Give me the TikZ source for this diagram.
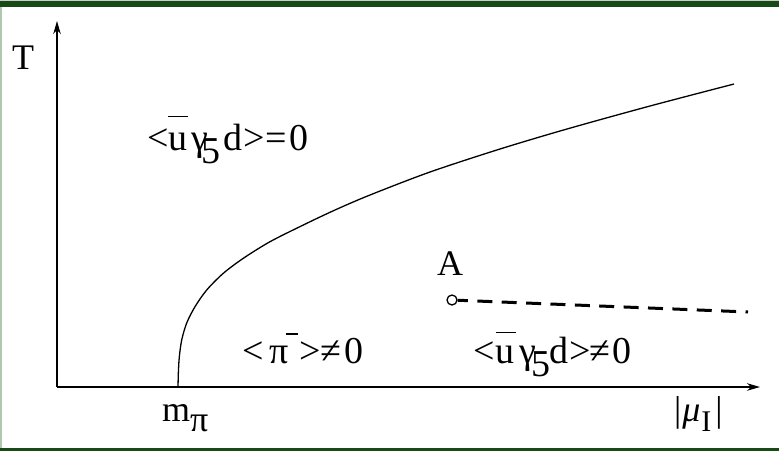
\documentclass[tikz,border=0pt]{standalone}
\usepackage{fontspec}
\setmainfont{Liberation Serif}
\usetikzlibrary{arrows.meta}
\definecolor{framedark}{RGB}{24,74,24}
\definecolor{framelight}{RGB}{175,200,175}
\newcommand{\ovl}[2]{\makebox[0pt][l]{\raisebox{#1}{\rule{#2}{1.4pt}}}}
\begin{document}
\begin{tikzpicture}[x=1pt,y=-1pt,
  lbl/.style={inner sep=0pt, anchor=base west, font=\fontsize{38}{44}\selectfont},
  axlbl/.style={inner sep=0pt, anchor=base west, font=\fontsize{36}{42}\selectfont},
  axisline/.style={line width=1.4pt, -{Stealth[length=13pt,width=7.5pt,inset=4pt]}},
  boundary/.style={line width=1.3pt},
  crossover/.style={line width=3pt, dash pattern=on 15pt off 9.4pt, dash phase=4.7pt},
  endpt/.style={circle, draw, line width=1.3pt, minimum size=10pt, inner sep=0pt, fill=white}]
\useasboundingbox (0,0) rectangle (779,451);
\fill[white] (0,0) rectangle (779,451);
% frame
\fill[gray!40] (0,0) rectangle (779,1.2);
\fill[framedark] (0,1.2) rectangle (779,6.7);
\fill[framedark] (0,448) rectangle (779,451);
\fill[framelight] (0,6.7) rectangle (1.6,448);
% axes
\coordinate (O) at (57,387);
\coordinate (Ytop) at (57,21);
\coordinate (Xend) at (760,387);
\draw[axisline] (O) -- (Ytop);
\draw[axisline] (O) -- (Xend);
% phase boundary
\coordinate (mpi) at (178,387);
\coordinate (Bend) at (734,84);
\draw[boundary] plot[smooth, tension=0.5] coordinates {(178,387) (178.4,372) (179.3,357) (181.7,340) (186.7,323) (195,306.7) (206.7,290) (223.3,273.3) (243.3,258.3) (270,241.7) (303.3,225) (335,210) (370,195) (430,172) (500,149) (567,129) (650,106) (734,84)};
% crossover line
\node[endpt] (A) at (452,300) {};
\coordinate (Dend) at (748,312);
\draw[crossover] (A) -- (Dend);
% labels
\node[axlbl, anchor=base] (Tl) at (23,69) {T};
\node[axlbl, anchor=base] (Al) at (450,275) {A};
\node[axlbl] (mpil) at (162,421) {m\raisebox{-10pt}{π}};
\node[axlbl] (mul) at (674,421) {|\kern1pt\textit{μ}\kern1pt\raisebox{-10pt}{\fontsize{30}{32}\selectfont I}\kern4pt|};
\node[lbl] (sym) at (147,150) {<\kern-0.5pt\ovl{33pt}{20pt}u\kern4ptγ\kern-6pt\raisebox{-13pt}{5}\kern3pt d\kern1pt>\kern0.5pt=\kern2pt 0};
\node[lbl] (pion) at (242,363) {<\kern6ptπ\makebox[0pt][l]{\kern-3pt\raisebox{28pt}{\rule{12pt}{1.6pt}}}\kern11pt>\kern-1pt≠\kern3pt 0};
\node[lbl] (broken) at (473,363) {<\kern1pt\ovl{30pt}{20pt}u\kern5ptγ\kern-5pt\raisebox{-13pt}{5}\kern-1pt d\kern1pt>\kern-1pt≠\kern2pt 0};
\end{tikzpicture}
\end{document}
